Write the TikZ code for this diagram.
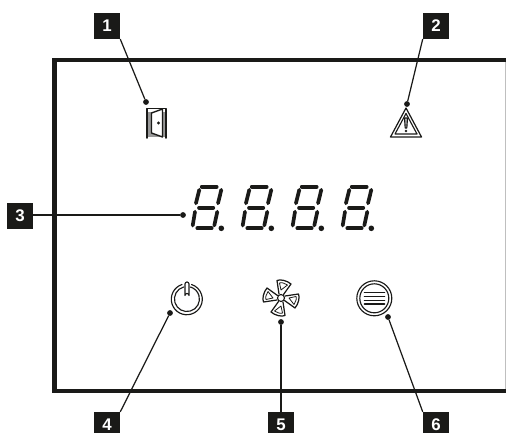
\documentclass[tikz,border=0pt]{standalone}
\usepackage{fontspec}
\setmainfont{Liberation Sans}
\definecolor{inkdark}{HTML}{1A1A18}
\tikzset{
	tag/.style={fill=inkdark,text=white,minimum size=14.8pt,inner sep=0pt,font=\fontsize{9.6}{10}\selectfont\bfseries},
	dotpt/.style={circle,fill=inkdark,minimum size=3.3pt,inner sep=0pt},
	leader/.style={draw=inkdark,line width=0.7pt},
	segm/.style={draw=inkdark,line width=2.1pt},
	icon/.style={draw=inkdark,line width=0.65pt}
}
\begin{document}
\begin{tikzpicture}[
					line cap=round,
					line join=round,
					x=0.02cm,
					y=-0.02cm
					]
					\useasboundingbox (0,0) rectangle (506,432);
					
					% Frame of the panel
					\draw[lightgray,line width=0.6pt] (505.5,60) -- (505.5,391);
					\draw[inkdark,line width=2.3pt,line cap=butt,line join=miter] (506,60.3) -- (54.5,60.3) -- (54.5,391) -- (506,391);
					
					% Numbered tags
					\node[tag] (T1) at (107,26) {1};
					\node[tag] (T2) at (436,26) {2};
					\node[tag] (T3) at (20,216) {3};
					\node[tag] (T4) at (107,425) {4};
					\node[tag] (T5) at (281,425) {5};
					\node[tag] (T6) at (436,425) {6};
					
					% Leader end points
					\node[dotpt] (D1) at (146,102) {};
					\node[dotpt] (D2) at (407,104) {};
					\node[dotpt] (D3) at (183,215) {};
					\node[dotpt] (D4) at (170,313) {};
					\node[dotpt] (D5) at (281,322) {};
					\node[dotpt] (D6) at (388,317) {};
					
					% Leaders
					\draw[leader] (T1.south east) -- (D1);
					\draw[leader] (T2.south west) -- (D2);
					\draw[leader] (T3.east |- D3) -- (D3);
					\draw[leader] (T4.north east) -- (D4);
					\draw[leader] (T5.north) -- (D5);
					\draw[leader] (T6.north west) -- (D6);
					
					% Door
					\fill[gray!80] (148,112) rectangle (165,137);
					\draw[inkdark,line width=1.1pt] (147,138) -- (147,108.5) -- (166,108.5) -- (166,138);
					\draw[inkdark,fill=white,line width=0.8pt] (151.5,113) -- (162.5,109) -- (162.5,137) -- (151.5,133) -- cycle;
					\fill[inkdark] (158.5,123) circle (1.6);
					
					% Warning triangle
					\draw[icon,line width=0.7pt] (406,108) -- (421.5,137) -- (390.5,137) -- cycle;
					\draw[icon] (406,113.5) -- (417,134) -- (395,134) -- cycle;
					\draw[icon,fill=lightgray] (404.5,118) -- (407.5,118) -- (406.8,128) -- (405.2,128) -- cycle;
					\fill[inkdark] (406,131) circle (1.3);
					
					% Seven segment digits
					\foreach \d in {0,50,100,150} {
						\begin{scope}[xshift=\d*0.02cm]
							\draw[segm] (201.7,186.7) -- (216.7,186.7);
							\draw[segm] (199.3,189.8) -- (195.9,203.3);
							\draw[segm] (221.3,189.8) -- (218,203.3);
							\draw[segm] (199,207.7) -- (213.3,207.7);
							\draw[segm] (195,211.7) -- (192.7,225.5);
							\draw[segm] (217.3,211.7) -- (214.3,225.5);
							\draw[segm] (197.3,228.3) -- (211.7,228.3);
							\fill[inkdark] (221.3,228.3) circle (2.8);
						\end{scope}
					}
					
					% Power button
					\draw[icon] (182,284.5) arc[start angle=-108,delta angle=-324,radius=15.5];
					\draw[icon] (183.5,287) arc[start angle=-106,delta angle=-328,radius=12.5];
					\draw[icon] (185,284) -- (185,295.5) arc[start angle=180,end angle=360,radius=2] -- (189,284) arc[start angle=0,end angle=-180,radius=2] -- cycle;
					
					% Fan
					\foreach \a in {0,90,180,270} {
						\begin{scope}[shift={(281,298)},rotate=\a]
							\draw[icon,line width=0.7pt] (-2,-4) -- (-4,-17.5) .. controls (-1,-19) and (6,-17.5) .. (10,-14) -- (2.5,-3.5);
							\draw[icon,line width=0.45pt] (0,-8) -- (-1.5,-15) .. controls (0,-15.8) and (4,-15) .. (6.5,-13) -- cycle;
						\end{scope}
					}
					\draw[icon,fill=white] (281,298) circle (3.5);
					
					% Menu button
					\draw[icon] (374.3,298.3) circle (17.5);
					\draw[icon] (374.3,298.3) circle (14.5);
					\foreach \h in {292.5,296.5,300.5,304} {
						\draw[inkdark,line width=0.9pt] (364.5,\h) -- (384.5,\h);
					}
					
				\end{tikzpicture}
\end{document}
